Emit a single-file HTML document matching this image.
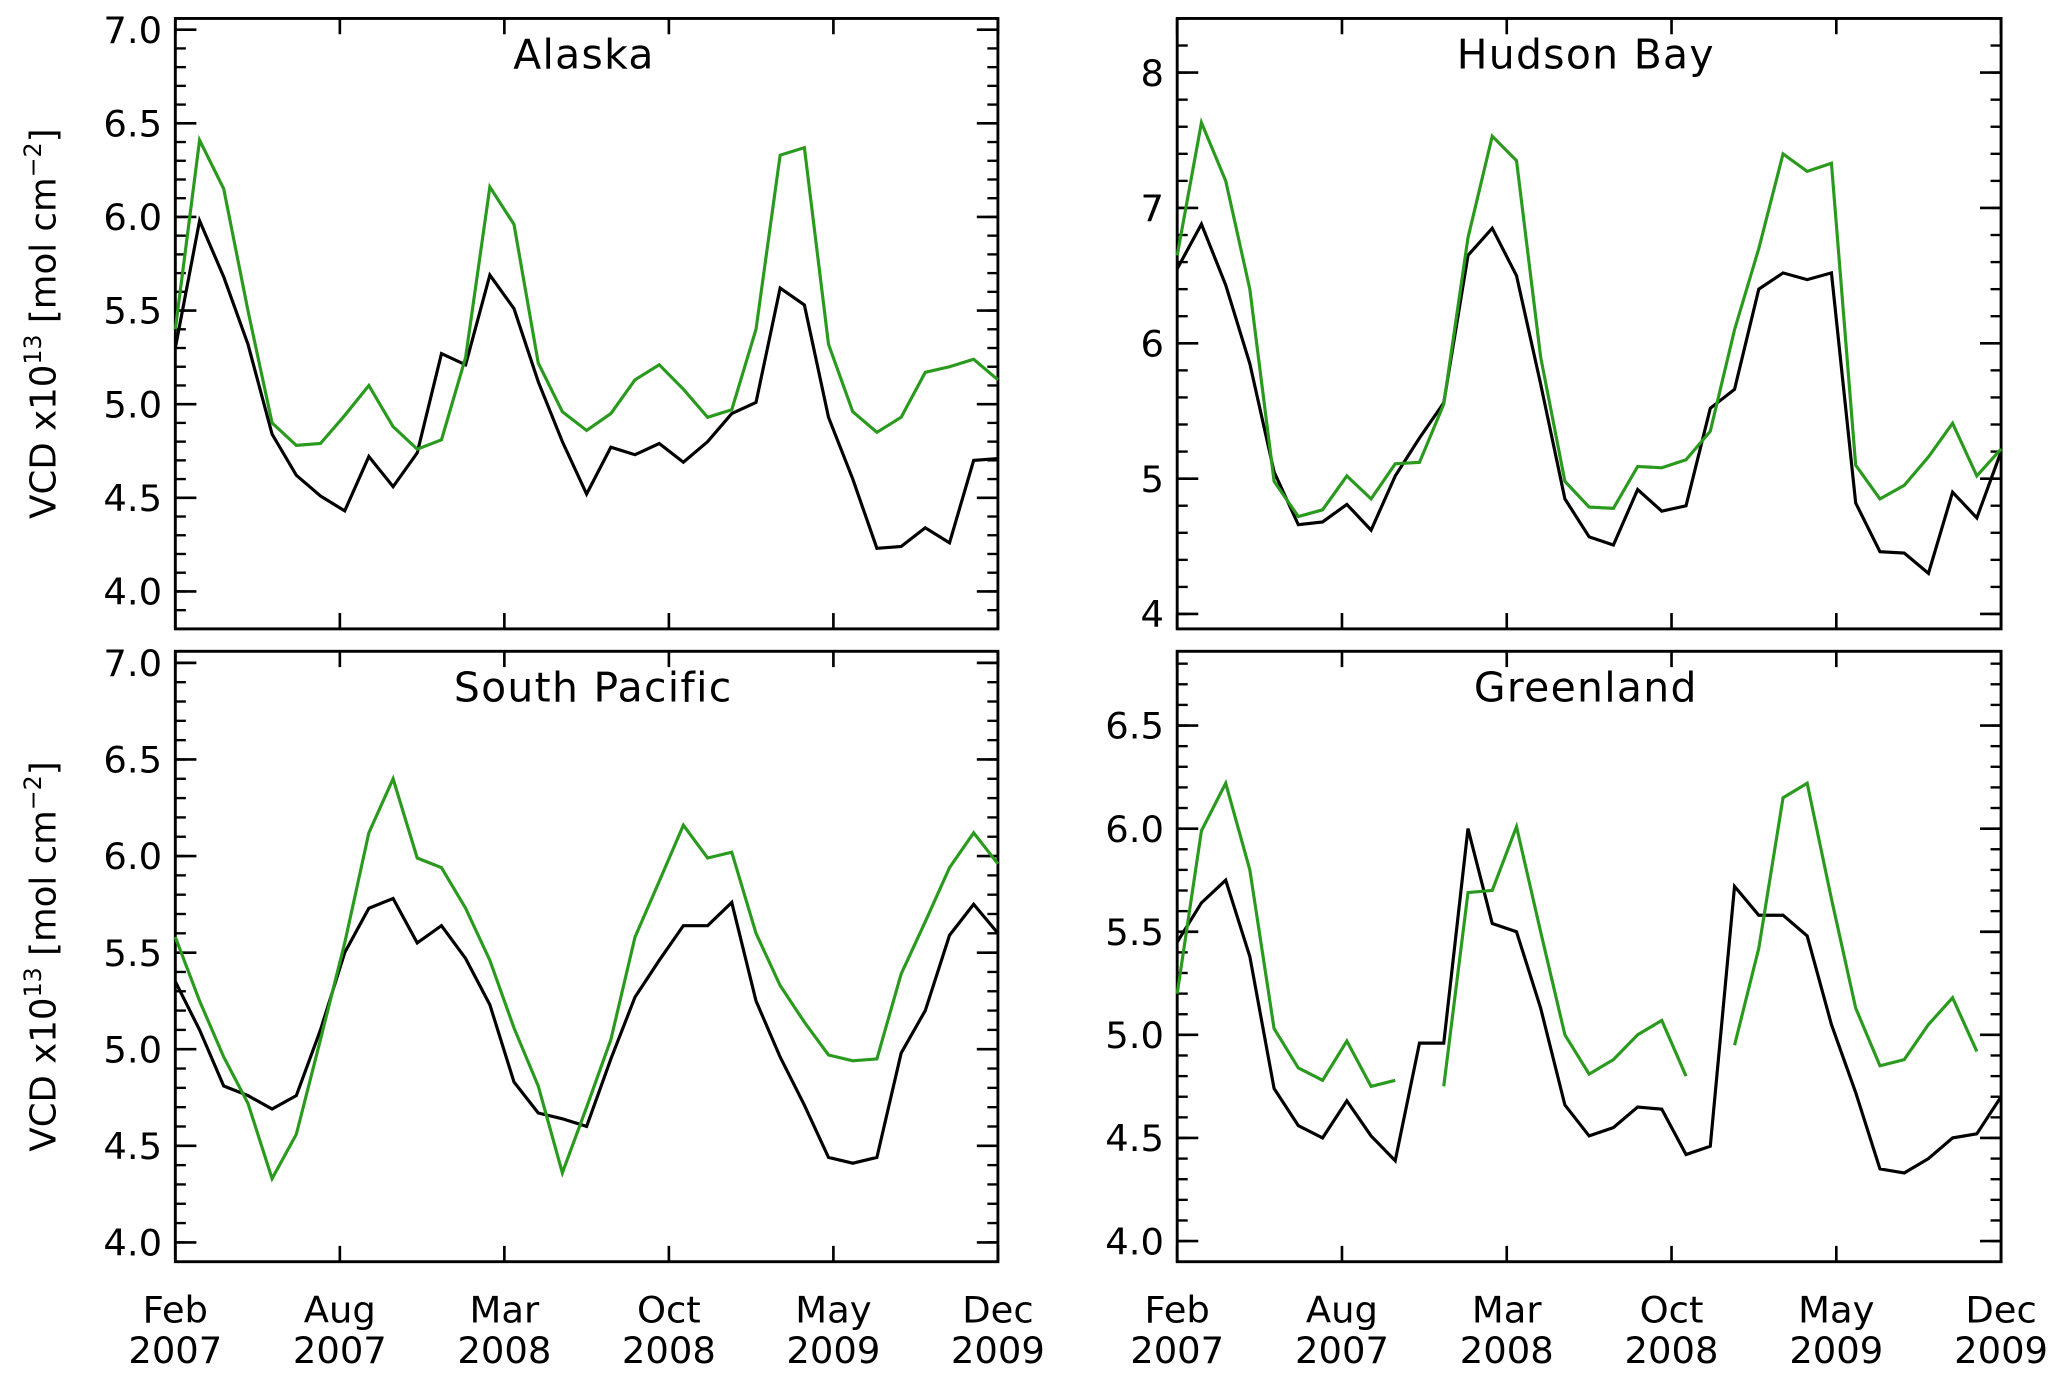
<!DOCTYPE html>
<html><head><meta charset="utf-8"><style>
html,body{margin:0;padding:0;background:#fff;}
svg{display:block;}
text{font-family:"DejaVu Sans","Liberation Sans",sans-serif;fill:#000;}
</style></head><body>
<svg id="fig" width="2067" height="1383" viewBox="0 0 1568 1049" preserveAspectRatio="none" xmlns="http://www.w3.org/2000/svg"></svg>
<script>
const xTickLabels = [["Feb","2007"],["Aug","2007"],["Mar","2008"],["Oct","2008"],["May","2009"],["Dec","2009"]];
const alaskaBlack = [5.30,5.98,5.68,5.32,4.84,4.62,4.51,4.43,4.72,4.56,4.74,5.27,5.21,5.69,5.51,5.12,4.80,4.52,4.77,4.73,4.79,4.69,4.80,4.95,5.01,5.62,5.53,4.93,4.60,4.23,4.24,4.34,4.26,4.70,4.71];
const alaskaGreen = [5.40,6.41,6.15,5.50,4.90,4.78,4.79,4.94,5.10,4.88,4.76,4.81,5.25,6.16,5.96,5.22,4.96,4.86,4.95,5.13,5.21,5.08,4.93,4.97,5.40,6.33,6.37,5.32,4.96,4.85,4.93,5.17,5.20,5.24,5.13];
const hudsonBlack = [6.55,6.88,6.43,5.85,5.05,4.66,4.68,4.81,4.62,5.02,5.30,5.56,6.65,6.85,6.50,5.70,4.85,4.57,4.51,4.92,4.76,4.80,5.52,5.66,6.40,6.52,6.47,6.52,4.82,4.46,4.45,4.30,4.90,4.71,5.20];
const hudsonGreen = [6.65,7.63,7.20,6.40,4.98,4.72,4.77,5.02,4.85,5.11,5.12,5.55,6.78,7.53,7.35,5.90,4.98,4.79,4.78,5.09,5.08,5.14,5.35,6.10,6.70,7.40,7.27,7.33,5.10,4.85,4.95,5.16,5.41,5.02,5.22];
const pacificBlack = [5.35,5.10,4.81,4.76,4.69,4.76,5.10,5.50,5.73,5.78,5.55,5.64,5.47,5.23,4.83,4.67,4.64,4.60,4.95,5.27,5.46,5.64,5.64,5.76,5.25,4.96,4.71,4.44,4.41,4.44,4.98,5.20,5.59,5.75,5.60];
const pacificGreen = [5.58,5.25,4.96,4.72,4.33,4.56,5.05,5.55,6.12,6.40,5.99,5.94,5.73,5.46,5.11,4.81,4.36,4.70,5.05,5.58,5.87,6.16,5.99,6.02,5.60,5.33,5.14,4.97,4.94,4.95,5.39,5.66,5.94,6.12,5.96];
const greenlandBlack = [5.45,5.64,5.75,5.38,4.74,4.56,4.50,4.68,4.51,4.39,4.96,4.96,6.00,5.54,5.50,5.13,4.66,4.51,4.55,4.65,4.64,4.42,4.46,5.72,5.58,5.58,5.48,5.05,4.72,4.35,4.33,4.40,4.50,4.52,4.70];
const greenlandGreen = [5.20,5.99,6.22,5.80,5.03,4.84,4.78,4.97,4.75,4.78,null,4.75,5.69,5.70,6.01,5.50,5.00,4.81,4.88,5.00,5.07,4.80,null,4.95,5.42,6.15,6.22,5.66,5.13,4.85,4.88,5.05,5.18,4.92,null];
const ticksA = [4.0,4.5,5.0,5.5,6.0,6.5,7.0];
const ticksH = [4,5,6,7,8];
const ticksG = [4.0,4.5,5.0,5.5,6.0,6.5];

const NS="http://www.w3.org/2000/svg";
const svg=document.getElementById('fig');
function mk(tag,attrs,parent){const e=document.createElementNS(NS,tag);for(const k in attrs)e.setAttribute(k,attrs[k]);(parent||svg).appendChild(e);return e;}

const panels=[
 {name:'alaska',title:'Alaska',x0:133,x1:757,y0:14,y1:477,lo:3.80,hi:7.06,ticks:ticksA,minor:0.1,dec:1,black:alaskaBlack,green:alaskaGreen,ylab:true,tx:443},
 {name:'hudson-bay',title:'Hudson  Bay',x0:893,x1:1518,y0:14,y1:477,lo:3.89,hi:8.40,ticks:ticksH,minor:0.2,dec:0,black:hudsonBlack,green:hudsonGreen,ylab:false,tx:1203},
 {name:'south-pacific',title:'South Pacific',x0:133,x1:757,y0:494,y1:957,lo:3.90,hi:7.06,ticks:ticksA,minor:0.1,dec:1,black:pacificBlack,green:pacificGreen,ylab:true,tx:450},
 {name:'greenland',title:'Greenland',x0:893,x1:1518,y0:494,y1:957,lo:3.90,hi:6.86,ticks:ticksG,minor:0.1,dec:1,black:greenlandBlack,green:greenlandGreen,ylab:false,tx:1203}
];

panels.forEach(p=>{
  const g=mk('g',{});
  
  
  const n=p.black.length-1;
  const xs=i=>p.x0+(p.x1-p.x0)*i/n;
  const ys=v=>p.y1-(v-p.lo)/(p.hi-p.lo)*(p.y1-p.y0);
  const fr=mk('rect',{x:p.x0,y:p.y0,width:p.x1-p.x0,height:p.y1-p.y0,fill:'none',stroke:'#000','stroke-width':2.2},g);
  
  
  for(let v=Math.ceil(p.lo/p.minor)*p.minor; v<=p.hi+1e-9; v+=p.minor){
    const y=ys(v);
    mk('line',{x1:p.x0,x2:p.x0+8,y1:y,y2:y,stroke:'#000','stroke-width':1.8},g);
    mk('line',{x1:p.x1,x2:p.x1-8,y1:y,y2:y,stroke:'#000','stroke-width':1.8},g);
  }
  p.ticks.forEach(v=>{
    const y=ys(v);
    mk('line',{x1:p.x0,x2:p.x0+16,y1:y,y2:y,stroke:'#000','stroke-width':2},g);
    mk('line',{x1:p.x1,x2:p.x1-16,y1:y,y2:y,stroke:'#000','stroke-width':2},g);
    const t=mk('text',{x:p.x0-10,y:y+10,'text-anchor':'end','font-size':28},g);
    t.textContent=v.toFixed(p.dec);
    
    
  });
  xTickLabels.forEach((lab,k)=>{
    const x=p.x0+(p.x1-p.x0)*k/(xTickLabels.length-1);
    mk('line',{x1:x,x2:x,y1:p.y1,y2:p.y1-12,stroke:'#000','stroke-width':2},g);
    mk('line',{x1:x,x2:x,y1:p.y0,y2:p.y0+12,stroke:'#000','stroke-width':2},g);
    if(p.y0>400){
      const t=mk('text',{x:x,y:1003,'text-anchor':'middle','font-size':28},g);
      t.textContent=lab[0];
      
      
      const t2=mk('text',{x:x,y:1034,'text-anchor':'middle','font-size':28},g);
      t2.textContent=lab[1];
      
      
    }
  });
  [['black',p.black,'#000'],['green',p.green,'#2a9a1e']].forEach(([nm,arr,col])=>{
    let d='',pen=false;
    arr.forEach((v,i)=>{
      if(v===null){pen=false;return;}
      d+=(pen?'L':'M')+xs(i).toFixed(1)+' '+ys(v).toFixed(1)+' ';pen=true;
    });
    const l=mk('path',{d:d,fill:'none',stroke:col,'stroke-width':2.4,'stroke-linejoin':'miter'},g);
    
    
  });
  const tt=mk('text',{x:p.tx,y:p.y0+38,'text-anchor':'middle','font-size':31,'letter-spacing':'1'},g);
  tt.textContent=p.title;
  
  
  if(p.ylab){
    const cy=(p.y0+p.y1)/2;
    const t=mk('text',{x:0,y:0,'text-anchor':'middle','font-size':27,transform:`translate(42,${cy}) rotate(-90)`},g);
    t.innerHTML='VCD x10<tspan dy="-11" font-size="18">13</tspan><tspan dy="11"> [mol cm</tspan><tspan dy="-11" font-size="18">−2</tspan><tspan dy="11">]</tspan>';
    
    
  }
});
</script>
</body></html>
